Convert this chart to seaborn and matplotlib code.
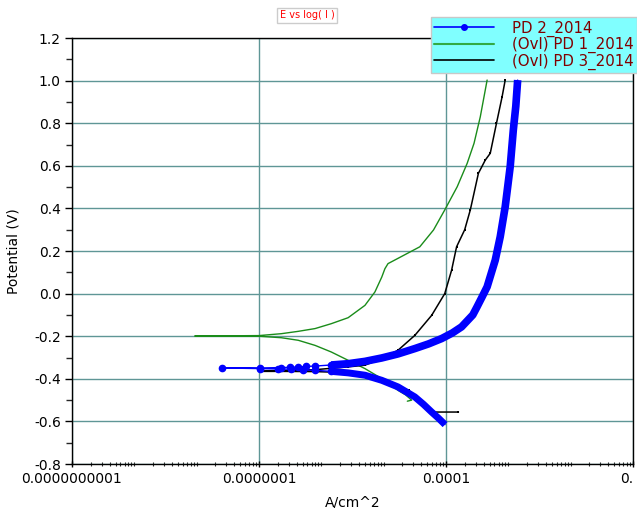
# Tafel plot: E vs log(I) for three potentiodynamic scans

import numpy as np
import pandas as pd
import matplotlib
matplotlib.use("Agg")
import matplotlib.pyplot as plt
from matplotlib.lines import Line2D
from matplotlib.ticker import (LogLocator, FixedLocator, FixedFormatter,
                               MultipleLocator, NullFormatter)
import seaborn as sns

# values: log10 of current density (A/cm^2) and potential (V)
# PD 2_2014 (blue, dense points)
blue_log = [-4.015, -4.12, -4.23, -4.36, -4.50, -4.77, -5.03, -5.30, -5.57, -5.84,
            -6.10, -6.30, -6.48, -6.70, -6.98, -7.59, -6.98, -6.64, -6.50, -6.38,
            -6.25, -6.10, -5.84, -5.57, -5.30, -5.03, -4.77, -4.50, -4.28, -4.07,
            -3.90, -3.75, -3.57, -3.50, -3.42, -3.34, -3.21, -3.13, -3.05, -2.97,
            -2.92, -2.88, -2.85]
blue_E = [-0.615, -0.585, -0.556, -0.520, -0.485, -0.438, -0.407, -0.383, -0.372, -0.365,
          -0.360, -0.358, -0.355, -0.354, -0.352, -0.349, -0.349, -0.347, -0.346, -0.344,
          -0.342, -0.340, -0.335, -0.329, -0.318, -0.302, -0.283, -0.258, -0.236, -0.211,
          -0.185, -0.156, -0.100, -0.061, -0.015, 0.032, 0.157, 0.267, 0.408, 0.596,
          0.768, 0.880, 1.003]

# (Ovl) PD 1_2014 (green)
green_log = [-4.62, -4.55, -4.65, -4.77, -5.03, -5.30, -5.57, -5.84, -6.10, -6.37,
             -6.64, -7.00, -8.03, -7.00, -6.64, -6.37, -6.10, -5.84, -5.57, -5.30,
             -5.14, -5.03, -4.98, -4.93, -4.71, -4.42, -4.20, -4.02, -3.82, -3.66,
             -3.55, -3.45, -3.34]
green_E = [-0.505, -0.500, -0.475, -0.454, -0.399, -0.352, -0.313, -0.274, -0.243, -0.219,
           -0.207, -0.200, -0.199, -0.197, -0.188, -0.177, -0.164, -0.141, -0.113, -0.055,
           0.008, 0.078, 0.117, 0.141, 0.175, 0.220, 0.299, 0.393, 0.502, 0.612,
           0.706, 0.830, 1.003]

# (Ovl) PD 3_2014 (black)
black_log = [-3.80, -4.18, -4.28, -4.44, -4.60, -4.82, -5.03, -5.30, -5.57, -6.10,
             -6.64, -7.00, -6.64, -6.10, -5.57, -5.30, -5.03, -4.77, -4.50, -4.23,
             -4.02, -3.91, -3.83, -3.70, -3.61, -3.48, -3.37, -3.29, -3.19, -3.10,
             -3.05]
black_E = [-0.556, -0.556, -0.540, -0.493, -0.454, -0.426, -0.399, -0.379, -0.371, -0.366,
           -0.365, -0.365, -0.362, -0.357, -0.344, -0.336, -0.305, -0.266, -0.196, -0.102,
           0.000, 0.110, 0.220, 0.300, 0.393, 0.565, 0.627, 0.659, 0.800, 0.924,
           1.003]

series_labels = ["PD 2_2014", "(Ovl) PD 1_2014", "(Ovl) PD 3_2014"]
x_tick_values = [1e-10, 1e-7, 1e-4, 1e-1]
x_tick_labels = ["0.0000000001", "0.0000001", "0.0001", "0."]

BLUE = "#0000ff"
GREEN = "#1a8c1a"
GRID = "#5f9696"

blue_df = pd.DataFrame({"I": np.power(10.0, blue_log), "E": blue_E})
green_df = pd.DataFrame({"I": np.power(10.0, green_log), "E": green_E})
black_df = pd.DataFrame({"I": np.power(10.0, black_log), "E": black_E})

sns.set_theme(style="white")
plt.rcParams["font.family"] = ["DejaVu Sans"]

fig = plt.figure(figsize=(6.37, 5.08), dpi=100)
ax = fig.add_axes([0.113, 0.0866, 0.8807, 0.8384])

# green and black overlays first, blue on top
sns.lineplot(data=green_df, x="I", y="E", sort=False, estimator=None,
             color=GREEN, linewidth=1.0, ax=ax)
sns.lineplot(data=black_df, x="I", y="E", sort=False, estimator=None,
             color="black", linewidth=1.1, marker="s", markersize=1.6,
             markeredgewidth=0, ax=ax)

# blue: thin line through all points, dense parts drawn thick, sparse points as dots
sns.lineplot(data=blue_df, x="I", y="E", sort=False, estimator=None,
             color=BLUE, linewidth=1.0, ax=ax)
sns.lineplot(data=blue_df.iloc[:10], x="I", y="E", sort=False, estimator=None,
             color=BLUE, linewidth=5.0, solid_capstyle="butt", ax=ax)
sns.lineplot(data=blue_df.iloc[22:], x="I", y="E", sort=False, estimator=None,
             color=BLUE, linewidth=5.5, solid_capstyle="butt", ax=ax)
ax.plot(blue_df["I"].iloc[9:23], blue_df["E"].iloc[9:23], linestyle="none",
        marker="o", markersize=4.5, color=BLUE)

ax.set_xscale("log")
ax.set_xlim(1e-10, 1e-1)
ax.set_ylim(-0.8, 1.2)

ax.xaxis.set_major_locator(FixedLocator(x_tick_values))
ax.xaxis.set_major_formatter(FixedFormatter(x_tick_labels))
ax.xaxis.set_minor_locator(LogLocator(base=10, subs=np.arange(1, 10), numticks=100))
ax.xaxis.set_minor_formatter(NullFormatter())
ax.yaxis.set_major_locator(MultipleLocator(0.2))
ax.yaxis.set_minor_locator(MultipleLocator(0.1))
ax.yaxis.set_major_formatter(plt.FormatStrFormatter("%.1f"))

ax.tick_params(axis="both", which="major", labelsize=10, colors="black", length=5,
               width=1, pad=3)
ax.tick_params(axis="y", which="both", direction="out", left=True)
ax.tick_params(axis="y", which="minor", length=4, width=1)
ax.tick_params(axis="x", which="both", direction="inout", bottom=True)
ax.tick_params(axis="x", which="minor", length=3, width=0.8)

# last x label sits at the figure edge, keep it inside
fig.canvas.draw()
ax.get_xticklabels()[-1].set_horizontalalignment("right")

ax.grid(True, which="major", axis="both", color=GRID, linewidth=1.0)
ax.set_axisbelow(True)
for side in ["left", "bottom", "top", "right"]:
    ax.spines[side].set_color("black")
    ax.spines[side].set_linewidth(1.0)

ax.set_xlabel("A/cm^2", fontsize=10, color="black", labelpad=7)
ax.set_ylabel("Potential (V)", fontsize=10, color="black", labelpad=10)

fig.text(0.482, 0.970, "E vs log( I )", color="red", fontsize=7, ha="center",
         va="center", bbox=dict(facecolor="white", edgecolor="#cccccc",
                                boxstyle="square,pad=0.25"))

handles = [
    Line2D([], [], color=BLUE, linewidth=1.2, marker="o", markersize=4),
    Line2D([], [], color="#33aa44", linewidth=1.5),
    Line2D([], [], color="black", linewidth=1.2),
]
leg = fig.legend(handles, series_labels, loc="upper right",
                 bbox_to_anchor=(1.0, 0.966), borderaxespad=0, fontsize=10.8,
                 handlelength=4.0, handletextpad=1.2, labelspacing=0.02,
                 borderpad=0.22, numpoints=1, fancybox=False, framealpha=1,
                 facecolor="#80ffff", edgecolor="#c8c8c8", labelcolor="#800000")
leg.get_frame().set_linewidth(1.0)

fig.savefig("out.png", dpi=100)
